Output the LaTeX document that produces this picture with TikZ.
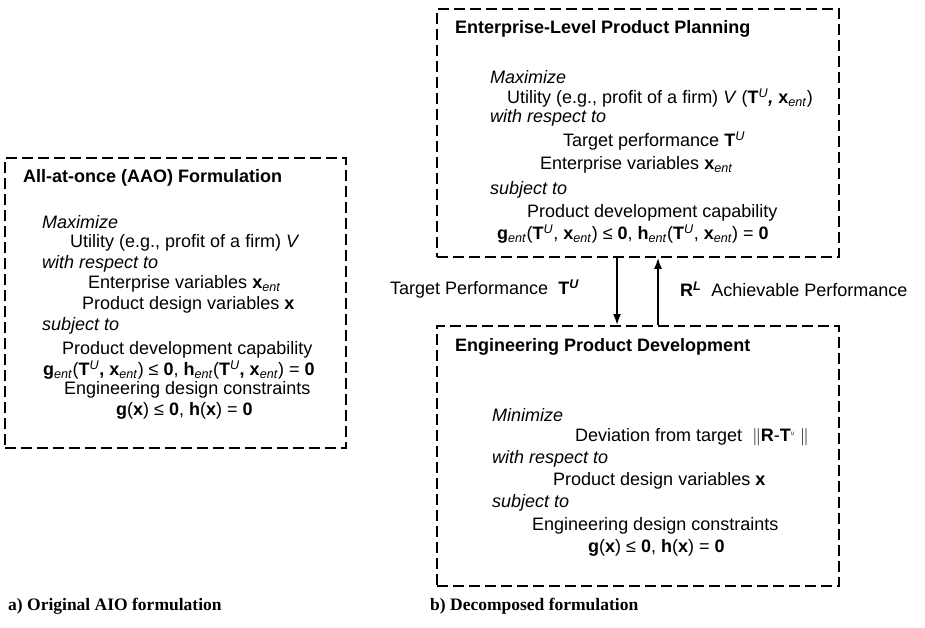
\documentclass[tikz,border=0pt]{standalone}
\usepackage{fontspec}
\setmainfont{Liberation Sans}
\newfontfamily\capfont{Liberation Serif}
\usetikzlibrary{arrows.meta}
\newcommand{\xent}{\textbf{x}\textsubscript{\textit{ent}}}
\newcommand{\TU}{\textbf{T}\textsuperscript{\textit{U}}}
\newcommand{\gent}{\textbf{g}\textsubscript{\textit{ent}}}
\newcommand{\hent}{\textbf{h}\textsubscript{\textit{ent}}}
\tikzset{
  dbox/.style={draw, line width=1.8pt, dash pattern=on 11pt off 5pt, inner sep=0pt},
  txt/.style={font=\fontsize{18}{20}\selectfont, inner sep=0pt, anchor=west},
  ttl/.style={font=\fontsize{18}{20}\selectfont\bfseries, inner sep=0pt, anchor=west},
  itx/.style={font=\fontsize{18}{20}\selectfont\itshape, inner sep=0pt, anchor=west},
  captxt/.style={font=\fontsize{17.5}{20}\selectfont\capfont\bfseries, inner sep=0pt, anchor=west},
  arr/.style={line width=1.8pt, -{Latex[length=11pt,width=8pt]}}
}
\begin{document}
\begin{tikzpicture}[x=1pt,y=-1pt]
\useasboundingbox[fill=white] (0,0) rectangle (925,627);
% boxes
\node[dbox, anchor=north west, minimum width=341, minimum height=290] (aao) at (4,157) {};
\node[dbox, anchor=north west, minimum width=402, minimum height=248] (epp) at (436,8) {};
\node[dbox, anchor=north west, minimum width=402, minimum height=260] (epd) at (436,325) {};
% left box text
\node[ttl] (a1) at (23,178) {All-at-once (AAO) Formulation};
\node[itx] (a2) at (42,222) {Maximize};
\node[txt] (a3) at (70,243) {Utility (e.g., profit of a firm) \textit{V}};
\node[itx] (a4) at (42,264) {with respect to};
\node[txt] (a5) at (88,284) {Enterprise variables \xent};
\node[txt] (a6) at (82,305) {Product design variables \textbf{x}};
\node[itx] (a7) at (42,326) {subject to};
\node[txt] (a8) at (62,350) {Product development capability};
\node[txt] (a9) at (43,370) {\gent(\TU\textbf{,} \xent) ≤ \textbf{0}, \hent(\TU\textbf{,} \xent) = \textbf{0}};
\node[txt] (a10) at (64,390) {Engineering design constraints};
\node[txt] (a11) at (116,411) {\textbf{g}(\textbf{x}) ≤ \textbf{0}, \textbf{h}(\textbf{x}) = \textbf{0}};
% top right box text
\node[ttl] (b1) at (455,29) {Enterprise-Level Product Planning};
\node[itx] (b2) at (490,77) {Maximize};
\node[txt] (b3) at (507,98) {Utility (e.g., profit of a firm) \textit{V} (\TU\textbf{\textit{,}} \xent)};
\node[itx] (b4) at (490,118) {with respect to};
\node[txt] (b5) at (563,141) {Target performance \TU};
\node[txt] (b6) at (540,165) {Enterprise variables \xent};
\node[itx] (b7) at (490,190) {subject to};
\node[txt] (b8) at (527,213) {Product development capability};
\node[txt] (b9) at (497,234) {\gent(\TU, \xent) ≤ \textbf{0}, \hent(\TU, \xent) = \textbf{0}};
% lower right box text
\node[ttl] (c1) at (455,347) {Engineering Product Development};
\node[itx] (c2) at (492,415) {Minimize};
\node[txt] (c3) at (575,437) {Deviation from target \ $\|$\textbf{R}-\textbf{T}\textsuperscript{\tiny U}\ $\|$};
\node[itx] (c4) at (492,459) {with respect to};
\node[txt] (c5) at (553,481) {Product design variables \textbf{x}};
\node[itx] (c6) at (492,503) {subject to};
\node[txt] (c7) at (532,526) {Engineering design constraints};
\node[txt] (c8) at (588,548) {\textbf{g}(\textbf{x}) ≤ \textbf{0}, \textbf{h}(\textbf{x}) = \textbf{0}};
% arrows
\coordinate (dn) at (617,0);
\coordinate (up) at (658,0);
\draw[arr] (dn |- epp.south) -- (dn |- epd.north);
\draw[arr] (up |- epd.north) -- (up |- epp.south);
\node[txt] (l1) at (390,289) {Target Performance \ \textbf{T}\textsuperscript{\textbf{\textit{U}}}};
\node[txt] (l2) at (680,289) {\textbf{R}\textsuperscript{\textbf{\textit{L}}} \ Achievable Performance};
% captions
\node[captxt] (k1) at (8,606) {a) Original AIO formulation};
\node[captxt] (k2) at (430,606) {b) Decomposed formulation};
\end{tikzpicture}
\end{document}
